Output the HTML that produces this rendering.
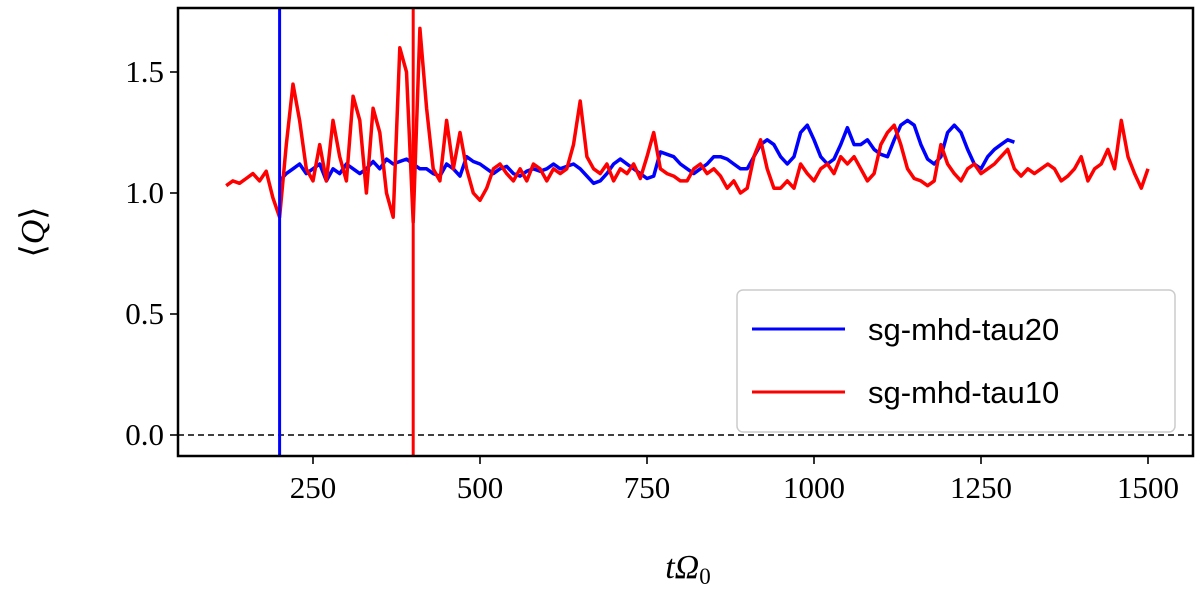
<!DOCTYPE html>
<html><head><meta charset="utf-8"><style>
body{margin:0;background:#fff}
svg text{font-family:"Liberation Serif",serif}
</style></head><body>
<svg id="chart" width="1200" height="589" xmlns="http://www.w3.org/2000/svg">
<g id="plot"></g>
</svg>
<script>
const xTicks=[250,500,750,1000,1250,1500];
const yTicks=[0.0,0.5,1.0,1.5];
const yTickLabels=["0.0","0.5","1.0","1.5"];
const redStart=120, blueStart=200, step=10;
const redValues=[1.03,1.05,1.04,1.06,1.08,1.05,1.09,0.98,0.9,1.2,1.45,1.3,1.1,1.05,1.2,1.05,1.3,1.15,1.05,1.4,1.3,1.0,1.35,1.25,1.0,0.9,1.6,1.5,0.88,1.68,1.35,1.1,1.05,1.3,1.1,1.25,1.1,1.0,0.97,1.02,1.1,1.12,1.08,1.05,1.1,1.05,1.12,1.1,1.05,1.1,1.08,1.1,1.2,1.38,1.15,1.1,1.08,1.12,1.05,1.1,1.08,1.12,1.06,1.15,1.25,1.1,1.08,1.07,1.05,1.05,1.1,1.12,1.08,1.1,1.07,1.02,1.05,1.0,1.02,1.15,1.22,1.1,1.02,1.02,1.05,1.02,1.12,1.08,1.05,1.1,1.12,1.08,1.15,1.12,1.15,1.1,1.05,1.08,1.2,1.25,1.28,1.2,1.1,1.06,1.05,1.03,1.05,1.2,1.12,1.08,1.05,1.1,1.12,1.08,1.1,1.12,1.15,1.18,1.1,1.07,1.1,1.08,1.1,1.12,1.1,1.05,1.07,1.1,1.15,1.05,1.1,1.12,1.18,1.1,1.3,1.15,1.08,1.02,1.1];
const blueValues=[1.05,1.08,1.1,1.12,1.08,1.1,1.12,1.05,1.1,1.08,1.12,1.1,1.08,1.1,1.13,1.1,1.14,1.12,1.13,1.14,1.12,1.1,1.1,1.08,1.07,1.12,1.1,1.07,1.15,1.13,1.12,1.1,1.08,1.1,1.11,1.08,1.07,1.09,1.1,1.09,1.1,1.12,1.1,1.11,1.12,1.1,1.07,1.04,1.05,1.08,1.12,1.14,1.12,1.1,1.08,1.06,1.07,1.17,1.16,1.15,1.12,1.1,1.08,1.1,1.12,1.15,1.15,1.14,1.12,1.1,1.1,1.15,1.2,1.22,1.2,1.15,1.12,1.15,1.25,1.28,1.22,1.15,1.12,1.14,1.2,1.27,1.2,1.2,1.22,1.18,1.16,1.15,1.22,1.28,1.3,1.28,1.2,1.14,1.12,1.15,1.25,1.28,1.25,1.18,1.12,1.1,1.15,1.18,1.2,1.22,1.21];
const vlines=[{t:200,c:"#0000ff"},{t:400,c:"#ff0000"}];
const L=178,R=1193,T=8,B=456;
const X=t=>146+t*0.668, Y=v=>435-v*242;
const NS="http://www.w3.org/2000/svg";
const g=document.getElementById('plot');
function mk(tag,at){const e=document.createElementNS(NS,tag);for(const k in at)e.setAttribute(k,at[k]);g.appendChild(e);return e;}
let cp=mk('clipPath',{id:'cp'});const cr=document.createElementNS(NS,'rect');cr.setAttribute('x',L);cr.setAttribute('y',T);cr.setAttribute('width',R-L);cr.setAttribute('height',B-T);cp.appendChild(cr);
let d=mk('line',{x1:L,x2:R,y1:Y(0),y2:Y(0),stroke:'#000','stroke-width':1.6,'stroke-dasharray':'6,4'});


function series(vals,start,color,name){let p=vals.map((v,i)=>(i?'L':'M')+X(start+i*step).toFixed(1)+','+Y(v).toFixed(1)).join('');
 let e=mk('path',{d:p,fill:'none',stroke:color,'stroke-width':3.5,'stroke-linejoin':'round','clip-path':'url(#cp)'});
 
 }
series(blueValues,blueStart,'#0000ff','series-sg-mhd-tau20');
series(redValues,redStart,'#ff0000','series-sg-mhd-tau10');
vlines.forEach(v=>{let e=mk('line',{x1:X(v.t),x2:X(v.t),y1:T,y2:B,stroke:v.c,'stroke-width':3});
 
 });
let fr=mk('rect',{x:L,y:T,width:R-L,height:B-T,fill:'none',stroke:'#000','stroke-width':2.5});


xTicks.forEach(t=>{let l=mk('line',{x1:X(t),x2:X(t),y1:B,y2:B+8,stroke:'#000','stroke-width':1.6});
 
 
 let tx=mk('text',{x:X(t),y:B+42,'text-anchor':'middle','font-size':31});tx.textContent=t;
 
 });
yTicks.forEach((v,i)=>{let l=mk('line',{x1:L-8,x2:L,y1:Y(v),y2:Y(v),stroke:'#000','stroke-width':1.6});
 
 
 let tx=mk('text',{x:L-14,y:Y(v)+10,'text-anchor':'end','font-size':31});tx.textContent=yTickLabels[i];
 
 });
let xl=mk('text',{x:688,y:578,'text-anchor':'middle','font-size':34,'font-style':'italic'});xl.innerHTML='tΩ<tspan font-style="normal" font-size="23" dy="6">0</tspan>';


let yl=mk('text',{x:0,y:0,'text-anchor':'middle','font-size':34,transform:'translate(44,232) rotate(-90)'});yl.innerHTML='⟨<tspan font-style="italic">Q</tspan>⟩';


let lg=mk('rect',{x:737,y:290,width:438,height:142,rx:6,fill:'#fff','fill-opacity':0.85,stroke:'#ccc','stroke-width':1.5});


[["sg-mhd-tau20","#0000ff",329],["sg-mhd-tau10","#ff0000",392]].forEach(e=>{
 let l=mk('line',{x1:752,x2:845,y1:e[2],y2:e[2],stroke:e[1],'stroke-width':3});
 
 
 let t=mk('text',{x:868,y:e[2]+11,'font-size':31,style:'font-family:"Liberation Sans",sans-serif'});t.textContent=e[0];
 
 });
</script>
</body></html>
